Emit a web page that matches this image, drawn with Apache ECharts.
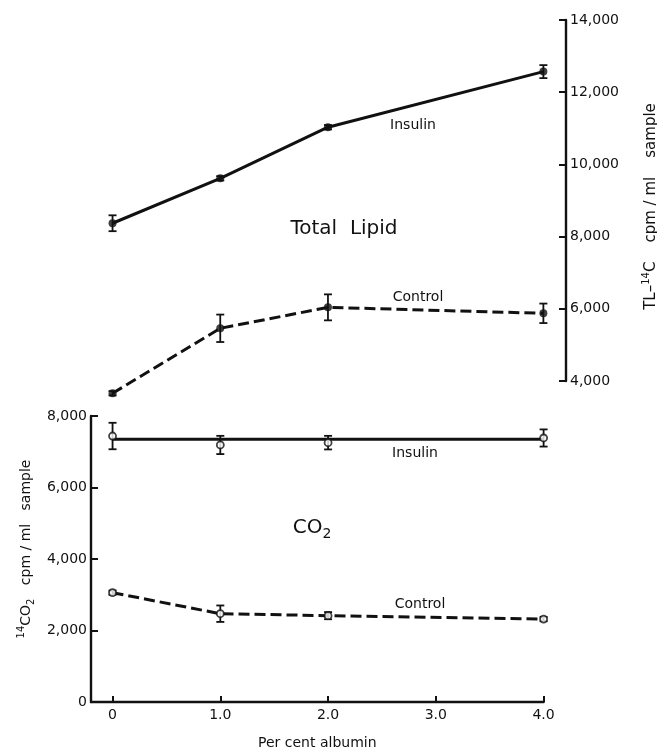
<!DOCTYPE html>
<html>
<head>
<meta charset="utf-8">
<script src="https://cdn.jsdelivr.net/npm/echarts@6/dist/echarts.min.js"></script>
<style>
  html, body { margin: 0; padding: 0; background: #fff; }
  #chart { width: 657px; height: 752px; }
</style>
</head>
<body>
<div id="chart"></div>
<script>
// per cent albumin
const albumin = [0, 1, 2, 4]
const albuminTicks = [0, 1, 2, 3, 4]
const lipidTicks = [4000, 6000, 8000, 10000, 12000, 14000]
const co2Ticks = [0, 2000, 4000, 6000, 8000]

// total lipid, TL-14C cpm/ml sample
const lipidInsulin = [8370, 9615, 11030, 12570]
const lipidInsulinErr = [220, 60, 60, 180]
const lipidControl = [3660, 5460, 6040, 5875]
const lipidControlErr = [60, 380, 360, 270]

// 14CO2 cpm/ml sample
const co2Insulin = [7440, 7190, 7255, 7385]
const co2InsulinErr = [370, 255, 190, 240]
const co2InsulinMeanX = [0, 4]
const co2InsulinMean = [7350, 7350]
const co2Control = [3058, 2470, 2415, 2320]
const co2ControlErr = [60, 230, 100, 60]

const FONT = 'DejaVu Sans'
const INK = '#111'

const pairs = (xs, ys) => xs.map((x, i) => [x, ys[i]])
const errRows = (ys, es) => albumin.map((x, i) => [x, ys[i] - es[i], ys[i] + es[i]])
const thousands = v => v.toLocaleString('en-US')

function renderErr (params, api) {
  const lo = api.coord([api.value(0), api.value(1)])
  const hi = api.coord([api.value(0), api.value(2)])
  const w = 4
  const style = { stroke: INK, lineWidth: 1.8 }
  return {
    type: 'group',
    children: [
      { type: 'line', shape: { x1: lo[0], y1: lo[1], x2: hi[0], y2: hi[1] }, style },
      { type: 'line', shape: { x1: lo[0] - w, y1: lo[1], x2: lo[0] + w, y2: lo[1] }, style },
      { type: 'line', shape: { x1: hi[0] - w, y1: hi[1], x2: hi[0] + w, y2: hi[1] }, style }
    ]
  }
}

function errSeries (idx, ys, es) {
  return {
    type: 'custom',
    xAxisIndex: idx,
    yAxisIndex: idx,
    renderItem: renderErr,
    encode: { x: 0, y: [1, 2] },
    data: errRows(ys, es),
    clip: false,
    z: 3,
    silent: true
  }
}

function lineSeries (idx, data, dashed) {
  return {
    type: 'line',
    xAxisIndex: idx,
    yAxisIndex: idx,
    data,
    symbol: 'none',
    lineStyle: { color: INK, width: 3, type: dashed ? [11, 5] : 'solid' },
    clip: false,
    z: 2,
    silent: true
  }
}

function pointSeries (idx, data, open) {
  return {
    type: 'scatter',
    xAxisIndex: idx,
    yAxisIndex: idx,
    data,
    symbol: 'circle',
    symbolSize: open ? 7 : 8,
    itemStyle: open
      ? { color: '#fff', borderColor: INK, borderWidth: 1.8 }
      : { color: INK },
    clip: false,
    z: 4,
    silent: true
  }
}

const axisCommon = {
  axisLine: { show: true, onZero: false, lineStyle: { color: INK, width: 2.4 } },
  axisTick: { show: true, inside: true, length: 7, lineStyle: { color: INK, width: 2 } },
  splitLine: { show: false },
  axisLabel: { color: INK, fontFamily: FONT, fontSize: 14, margin: 4 }
}

const nameRich = {
  sup: { fontSize: 10, fontFamily: FONT, color: INK, verticalAlign: 'top', lineHeight: 10 },
  sub: { fontSize: 10, fontFamily: FONT, color: INK, verticalAlign: 'bottom', lineHeight: 10 }
}

const labelFont = '14px "DejaVu Sans"'

const chart = echarts.init(document.getElementById('chart'))

chart.setOption({
  backgroundColor: '#fff',
  animation: false,
  grid: [
    { left: 91, top: 20, width: 475, height: 361, outerBoundsMode: 'none', containLabel: false },
    { left: 91, top: 416, width: 452.6, height: 286, outerBoundsMode: 'none', containLabel: false }
  ],
  xAxis: [
    { type: 'value', gridIndex: 0, min: -0.2, max: 4.21, show: false },
    {
      type: 'value',
      gridIndex: 1,
      min: -0.2,
      max: 4,
      ...axisCommon,
      axisTick: { ...axisCommon.axisTick, length: 6, customValues: albuminTicks },
      axisLabel: {
        ...axisCommon.axisLabel,
        margin: 6,
        customValues: albuminTicks,
        formatter: v => (v === 0 ? '0' : v.toFixed(1))
      },
      name: 'Per cent albumin',
      nameLocation: 'middle',
      nameGap: 34,
      nameTextStyle: { color: INK, fontFamily: FONT, fontSize: 14 }
    }
  ],
  yAxis: [
    {
      type: 'value',
      gridIndex: 0,
      position: 'right',
      min: lipidTicks[0],
      max: lipidTicks[lipidTicks.length - 1],
      interval: 2000,
      ...axisCommon,
      axisLabel: { ...axisCommon.axisLabel, formatter: thousands },
      name: 'TL\u2013{sup|14}C    cpm / ml    sample',
      nameLocation: 'middle',
      nameRotate: 90,
      nameGap: 75,
      nameTextStyle: { color: INK, fontFamily: FONT, fontSize: 15, lineHeight: 20, padding: [0, 12, 0, 0], rich: nameRich }
    },
    {
      type: 'value',
      gridIndex: 1,
      position: 'left',
      min: co2Ticks[0],
      max: co2Ticks[co2Ticks.length - 1],
      interval: 2000,
      ...axisCommon,
      axisLabel: { ...axisCommon.axisLabel, formatter: thousands },
      name: '{sup|14}CO{sub|2}   cpm / ml   sample',
      nameLocation: 'middle',
      nameRotate: 90,
      nameGap: 54,
      nameTextStyle: { color: INK, fontFamily: FONT, fontSize: 14, lineHeight: 20, padding: [0, 0, 0, 20], rich: nameRich }
    }
  ],
  graphic: [
    { type: 'text', x: 413, y: 125, style: { text: 'Insulin', align: 'center', verticalAlign: 'middle', fill: INK, font: labelFont } },
    { type: 'text', x: 418, y: 297, style: { text: 'Control', align: 'center', verticalAlign: 'middle', fill: INK, font: labelFont } },
    { type: 'text', x: 344, y: 229, style: { text: 'Total  Lipid', align: 'center', verticalAlign: 'middle', fill: INK, font: '20px "DejaVu Sans"' } },
    { type: 'text', x: 415, y: 453, style: { text: 'Insulin', align: 'center', verticalAlign: 'middle', fill: INK, font: labelFont } },
    { type: 'text', x: 420, y: 604, style: { text: 'Control', align: 'center', verticalAlign: 'middle', fill: INK, font: labelFont } },
    {
      type: 'text',
      x: 312,
      y: 528,
      style: {
        text: '{a|CO}{b|2}',
        align: 'center',
        verticalAlign: 'middle',
        fill: INK,
        rich: {
          a: { fontSize: 20, fontFamily: FONT, fill: INK, lineHeight: 26 },
          b: { fontSize: 14, fontFamily: FONT, fill: INK, verticalAlign: 'bottom', lineHeight: 14 }
        }
      }
    }
  ],
  series: [
    // total lipid
    lineSeries(0, pairs(albumin, lipidInsulin), false),
    lineSeries(0, pairs(albumin, lipidControl), true),
    errSeries(0, lipidInsulin, lipidInsulinErr),
    errSeries(0, lipidControl, lipidControlErr),
    pointSeries(0, pairs(albumin, lipidInsulin), false),
    pointSeries(0, pairs(albumin, lipidControl), false),
    // CO2
    lineSeries(1, pairs(co2InsulinMeanX, co2InsulinMean), false),
    lineSeries(1, pairs(albumin, co2Control), true),
    errSeries(1, co2Insulin, co2InsulinErr),
    errSeries(1, co2Control, co2ControlErr),
    pointSeries(1, pairs(albumin, co2Insulin), true),
    pointSeries(1, pairs(albumin, co2Control), true)
  ]
})
</script>
</body>
</html>
